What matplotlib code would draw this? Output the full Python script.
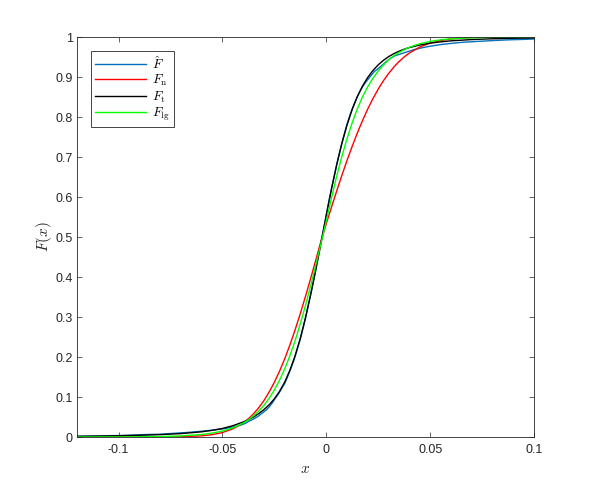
import matplotlib
matplotlib.use("Agg")
import matplotlib.pyplot as plt

plt.rcParams['font.family'] = ['Liberation Sans', 'DejaVu Sans']
plt.rcParams['mathtext.fontset'] = 'cm'
plt.rcParams['axes.unicode_minus'] = False

# x positions shared by the three fitted CDFs
x_grid = [-0.12, -0.11, -0.10, -0.09, -0.08, -0.07, -0.06, -0.055, -0.05, -0.045,
          -0.04, -0.0375, -0.035, -0.0325, -0.03, -0.0275, -0.025, -0.0225, -0.02, -0.0175,
          -0.015, -0.0125, -0.01, -0.0075, -0.005, -0.0025, 0.0, 0.0025, 0.005, 0.0075,
          0.01, 0.0125, 0.015, 0.0175, 0.02, 0.0225, 0.025, 0.0275, 0.03, 0.0325,
          0.035, 0.0375, 0.04, 0.045, 0.05, 0.055, 0.06, 0.07, 0.08, 0.09, 0.10]

# normal fit (red)
F_n = [0.0, 0.0, 0.0, 0.0, 0.0001, 0.0006, 0.0029, 0.0058, 0.0111, 0.0203,
       0.0352, 0.0455, 0.0581, 0.0732, 0.0912, 0.1124, 0.1367, 0.1645, 0.1957, 0.2302,
       0.268, 0.3085, 0.3516, 0.3967, 0.4432, 0.4905, 0.5332, 0.5744, 0.6147, 0.654,
       0.6915, 0.7271, 0.7606, 0.7917, 0.8204, 0.8463, 0.8697, 0.8905, 0.9088, 0.9247,
       0.9384, 0.9501, 0.9599, 0.9749, 0.9849, 0.9912, 0.9951, 0.9987, 0.9997, 0.9999, 1.0]

# t fit (black)
F_t = [0.0018, 0.0023, 0.0031, 0.0043, 0.0059, 0.0085, 0.0130, 0.0166, 0.0213, 0.0282,
       0.0375, 0.0432, 0.0500, 0.0585, 0.0685, 0.0805, 0.0955, 0.1140, 0.1375, 0.1671,
       0.2032, 0.2467, 0.2977, 0.3556, 0.4192, 0.4864, 0.5542, 0.6195, 0.6801, 0.7339,
       0.7802, 0.8193, 0.8515, 0.8779, 0.8992, 0.9164, 0.9304, 0.9416, 0.9508, 0.9583,
       0.9644, 0.9695, 0.9736, 0.9800, 0.9846, 0.9878, 0.9904, 0.9936, 0.9956, 0.9969, 0.9976]

# logistic fit (green)
F_lg = [0.0, 0.0001, 0.0002, 0.0005, 0.0011, 0.0027, 0.0063, 0.0097, 0.0149, 0.0228,
        0.0348, 0.0430, 0.0528, 0.0648, 0.0793, 0.0967, 0.1174, 0.1419, 0.1704, 0.2034,
        0.2408, 0.2829, 0.3289, 0.3785, 0.431, 0.4848, 0.540, 0.597, 0.652, 0.701,
        0.746, 0.786, 0.821, 0.851, 0.876, 0.897, 0.915, 0.930, 0.9425, 0.953,
        0.9612, 0.9684, 0.9744, 0.9832, 0.989, 0.9929, 0.9954, 0.9981, 0.9992, 0.9997, 0.9999]

# empirical CDF (blue)
ecdf_x = [-0.125, -0.105, -0.097, -0.088, -0.080, -0.074, -0.068, -0.063, -0.059, -0.055,
          -0.052, -0.049, -0.046, -0.043, -0.041, -0.039, -0.037, -0.035, -0.033, -0.031,
          -0.029, -0.0275, -0.026, -0.0245, -0.023, -0.0215, -0.020, -0.0185, -0.017, -0.0155,
          -0.014, -0.0125, -0.011, -0.0095, -0.008, -0.0065, -0.005, -0.0035, -0.002, -0.0005,
          0.001, 0.0025, 0.004, 0.0055, 0.007, 0.0085, 0.010, 0.0115, 0.013, 0.0145,
          0.016, 0.0175, 0.019, 0.021, 0.023, 0.025, 0.027, 0.029, 0.031, 0.033,
          0.036, 0.039, 0.042, 0.046, 0.050, 0.055, 0.060, 0.066, 0.073, 0.080,
          0.088, 0.095, 0.100]
ecdf_F = [0.001, 0.003, 0.004, 0.006, 0.007, 0.009, 0.011, 0.013, 0.015, 0.017,
          0.019, 0.021, 0.024, 0.027, 0.030, 0.034, 0.040, 0.045, 0.051, 0.059,
          0.067, 0.075, 0.085, 0.097, 0.108, 0.121, 0.134, 0.152, 0.172, 0.193,
          0.219, 0.245, 0.276, 0.310, 0.346, 0.382, 0.421, 0.460, 0.501, 0.541,
          0.583, 0.621, 0.657, 0.692, 0.724, 0.754, 0.782, 0.806, 0.827, 0.846,
          0.862, 0.876, 0.887, 0.900, 0.913, 0.921, 0.930, 0.939, 0.947, 0.953,
          0.958, 0.963, 0.968, 0.973, 0.977, 0.981, 0.984, 0.987, 0.989, 0.991,
          0.993, 0.994, 0.995]

x_ticks = [-0.1, -0.05, 0, 0.05, 0.1]
x_ticklabels = ['-0.1', '-0.05', '0', '0.05', '0.1']
y_ticks = [0, 0.1, 0.2, 0.3, 0.4, 0.5, 0.6, 0.7, 0.8, 0.9, 1]
y_ticklabels = ['0', '0.1', '0.2', '0.3', '0.4', '0.5', '0.6', '0.7', '0.8', '0.9', '1']

ax_color = '#262626'

fig = plt.figure(figsize=(5.89, 4.9), dpi=100)
fig.patch.set_facecolor('white')
ax = fig.add_axes([77/589, 53/490, 457/589, 400/490])

ax.plot(ecdf_x, ecdf_F, color='#0072BD', lw=1.0, label=r'$\hat{F}$')
ax.plot(x_grid, F_n, color='#FF0000', lw=1.0, label=r'$F_{\mathrm{n}}$')
ax.plot(x_grid, F_t, color='black', lw=1.0, label=r'$F_{\mathrm{t}}$')
ax.plot(x_grid, F_lg, color='#00FF00', lw=1.0, label=r'$F_{\mathrm{lg}}$')

ax.set_xlim(-0.12, 0.1)
ax.set_ylim(0, 1)
ax.set_xticks(x_ticks)
ax.set_xticklabels(x_ticklabels)
ax.set_yticks(y_ticks)
ax.set_yticklabels(y_ticklabels)

ax.tick_params(direction='in', length=3.3, width=0.5, color=ax_color,
               labelsize=9, labelcolor=ax_color, top=True, right=True)
ax.tick_params(axis='x', pad=5)
ax.tick_params(axis='y', pad=3)
for sp in ax.spines.values():
    sp.set_linewidth(0.6)
    sp.set_color(ax_color)

ax.set_xlabel(r'$x$', fontsize=11, color=ax_color, labelpad=4.5)
ax.set_ylabel(r'$F(x)$', fontsize=11, color=ax_color, labelpad=1)

leg = ax.legend(loc='upper left', bbox_to_anchor=(0.0306, 0.965), borderaxespad=0,
                fontsize=9.5, handlelength=3.9, labelspacing=0.1, handletextpad=0.45,
                borderpad=0.3, fancybox=False, framealpha=1)
leg.get_frame().set_edgecolor(ax_color)
leg.get_frame().set_linewidth(0.6)

fig.savefig('out.png', dpi=100)
